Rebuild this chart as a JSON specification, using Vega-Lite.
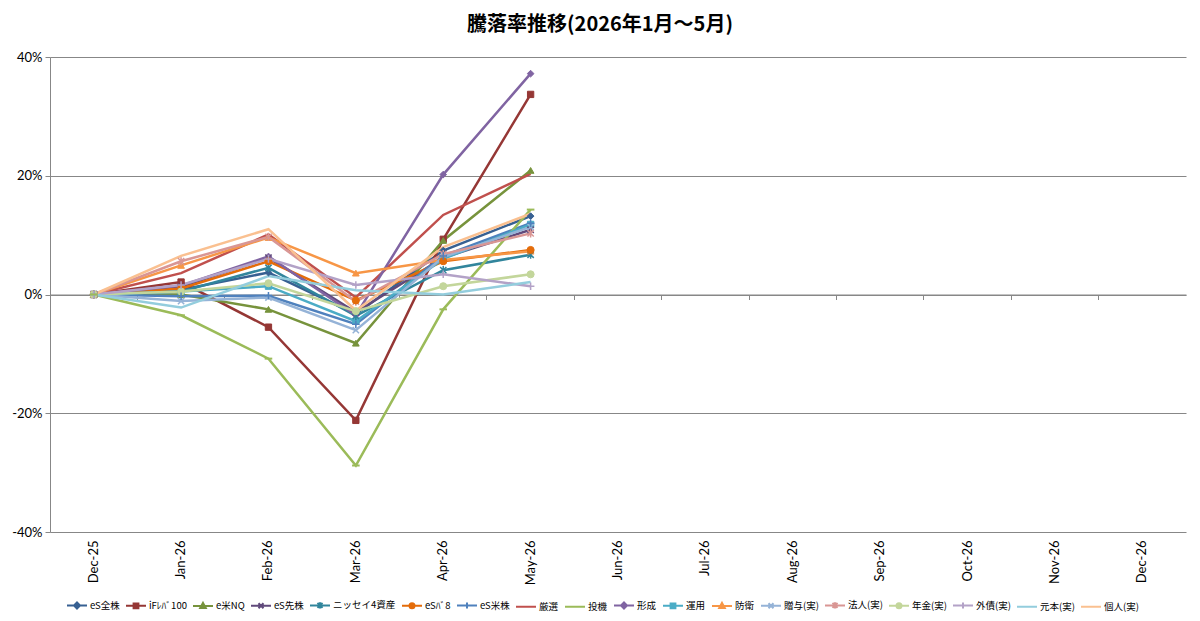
{
  "$schema": "https://vega.github.io/schema/vega-lite/v6.json",
  "description": "騰落率推移 line chart",
  "width": 1136, "height": 475,
  "autosize": {"type": "none"},
  "padding": {"left": 50, "top": 57, "right": 14, "bottom": 89},
  "background": "white",
  "config": {"view": {"stroke": null}},
  "title": {"text": "騰落率推移(2026年1月～5月)", "font": "Noto Sans CJK JP", "fontSize": 20, "fontWeight": "bold", "color": "#000", "anchor": "middle", "frame": "group", "dx": -18, "offset": 16},
  "data": {"values": [
    {"series": "eS全株", "month": "Dec-25", "value": 0}, {"series": "eS全株", "month": "Jan-26", "value": 0.8}, {"series": "eS全株", "month": "Feb-26", "value": 3.7}, {"series": "eS全株", "month": "Mar-26", "value": -3.3}, {"series": "eS全株", "month": "Apr-26", "value": 7.4}, {"series": "eS全株", "month": "May-26", "value": 13.2},
    {"series": "iFﾚﾊﾞ100", "month": "Dec-25", "value": 0}, {"series": "iFﾚﾊﾞ100", "month": "Jan-26", "value": 2.1}, {"series": "iFﾚﾊﾞ100", "month": "Feb-26", "value": -5.5}, {"series": "iFﾚﾊﾞ100", "month": "Mar-26", "value": -21.2}, {"series": "iFﾚﾊﾞ100", "month": "Apr-26", "value": 9.3}, {"series": "iFﾚﾊﾞ100", "month": "May-26", "value": 33.7},
    {"series": "e米NQ", "month": "Dec-25", "value": 0}, {"series": "e米NQ", "month": "Jan-26", "value": 0.0}, {"series": "e米NQ", "month": "Feb-26", "value": -2.5}, {"series": "e米NQ", "month": "Mar-26", "value": -8.2}, {"series": "e米NQ", "month": "Apr-26", "value": 9.1}, {"series": "e米NQ", "month": "May-26", "value": 20.9},
    {"series": "eS先株", "month": "Dec-25", "value": 0}, {"series": "eS先株", "month": "Jan-26", "value": 1.3}, {"series": "eS先株", "month": "Feb-26", "value": 6.2}, {"series": "eS先株", "month": "Mar-26", "value": -3.0}, {"series": "eS先株", "month": "Apr-26", "value": 6.2}, {"series": "eS先株", "month": "May-26", "value": 10.9},
    {"series": "ニッセイ4資産", "month": "Dec-25", "value": 0}, {"series": "ニッセイ4資産", "month": "Jan-26", "value": 0.5}, {"series": "ニッセイ4資産", "month": "Feb-26", "value": 4.5}, {"series": "ニッセイ4資産", "month": "Mar-26", "value": -3.6}, {"series": "ニッセイ4資産", "month": "Apr-26", "value": 4.1}, {"series": "ニッセイ4資産", "month": "May-26", "value": 6.7},
    {"series": "eSﾊﾞ8", "month": "Dec-25", "value": 0}, {"series": "eSﾊﾞ8", "month": "Jan-26", "value": 1.0}, {"series": "eSﾊﾞ8", "month": "Feb-26", "value": 5.6}, {"series": "eSﾊﾞ8", "month": "Mar-26", "value": -1.0}, {"series": "eSﾊﾞ8", "month": "Apr-26", "value": 5.6}, {"series": "eSﾊﾞ8", "month": "May-26", "value": 7.5},
    {"series": "eS米株", "month": "Dec-25", "value": 0}, {"series": "eS米株", "month": "Jan-26", "value": -0.3}, {"series": "eS米株", "month": "Feb-26", "value": -0.2}, {"series": "eS米株", "month": "Mar-26", "value": -5.0}, {"series": "eS米株", "month": "Apr-26", "value": 6.5}, {"series": "eS米株", "month": "May-26", "value": 12.0},
    {"series": "厳選", "month": "Dec-25", "value": 0}, {"series": "厳選", "month": "Jan-26", "value": 3.6}, {"series": "厳選", "month": "Feb-26", "value": 10.1}, {"series": "厳選", "month": "Mar-26", "value": -0.5}, {"series": "厳選", "month": "Apr-26", "value": 13.4}, {"series": "厳選", "month": "May-26", "value": 20.3},
    {"series": "投機", "month": "Dec-25", "value": 0}, {"series": "投機", "month": "Jan-26", "value": -3.5}, {"series": "投機", "month": "Feb-26", "value": -10.8}, {"series": "投機", "month": "Mar-26", "value": -28.8}, {"series": "投機", "month": "Apr-26", "value": -2.5}, {"series": "投機", "month": "May-26", "value": 14.3},
    {"series": "形成", "month": "Dec-25", "value": 0}, {"series": "形成", "month": "Jan-26", "value": 1.5}, {"series": "形成", "month": "Feb-26", "value": 6.4}, {"series": "形成", "month": "Mar-26", "value": -3.5}, {"series": "形成", "month": "Apr-26", "value": 20.2}, {"series": "形成", "month": "May-26", "value": 37.2},
    {"series": "運用", "month": "Dec-25", "value": 0}, {"series": "運用", "month": "Jan-26", "value": 0.5}, {"series": "運用", "month": "Feb-26", "value": 1.4}, {"series": "運用", "month": "Mar-26", "value": -4.5}, {"series": "運用", "month": "Apr-26", "value": 6.0}, {"series": "運用", "month": "May-26", "value": 11.8},
    {"series": "防衛", "month": "Dec-25", "value": 0}, {"series": "防衛", "month": "Jan-26", "value": 4.9}, {"series": "防衛", "month": "Feb-26", "value": 9.6}, {"series": "防衛", "month": "Mar-26", "value": 3.6}, {"series": "防衛", "month": "Apr-26", "value": 5.8}, {"series": "防衛", "month": "May-26", "value": 7.3},
    {"series": "贈与(実)", "month": "Dec-25", "value": 0}, {"series": "贈与(実)", "month": "Jan-26", "value": -1.1}, {"series": "贈与(実)", "month": "Feb-26", "value": -0.5}, {"series": "贈与(実)", "month": "Mar-26", "value": -6.0}, {"series": "贈与(実)", "month": "Apr-26", "value": 6.3}, {"series": "贈与(実)", "month": "May-26", "value": 11.4},
    {"series": "法人(実)", "month": "Dec-25", "value": 0}, {"series": "法人(実)", "month": "Jan-26", "value": 5.6}, {"series": "法人(実)", "month": "Feb-26", "value": 9.7}, {"series": "法人(実)", "month": "Mar-26", "value": -1.2}, {"series": "法人(実)", "month": "Apr-26", "value": 6.8}, {"series": "法人(実)", "month": "May-26", "value": 10.3},
    {"series": "年金(実)", "month": "Dec-25", "value": 0}, {"series": "年金(実)", "month": "Jan-26", "value": 0.5}, {"series": "年金(実)", "month": "Feb-26", "value": 1.9}, {"series": "年金(実)", "month": "Mar-26", "value": -2.8}, {"series": "年金(実)", "month": "Apr-26", "value": 1.4}, {"series": "年金(実)", "month": "May-26", "value": 3.4},
    {"series": "外債(実)", "month": "Dec-25", "value": 0}, {"series": "外債(実)", "month": "Jan-26", "value": 1.6}, {"series": "外債(実)", "month": "Feb-26", "value": 6.0}, {"series": "外債(実)", "month": "Mar-26", "value": 1.6}, {"series": "外債(実)", "month": "Apr-26", "value": 3.4}, {"series": "外債(実)", "month": "May-26", "value": 1.4},
    {"series": "元本(実)", "month": "Dec-25", "value": 0}, {"series": "元本(実)", "month": "Jan-26", "value": -2.2}, {"series": "元本(実)", "month": "Feb-26", "value": 3.1}, {"series": "元本(実)", "month": "Mar-26", "value": 0.7}, {"series": "元本(実)", "month": "Apr-26", "value": 0.0}, {"series": "元本(実)", "month": "May-26", "value": 2.1},
    {"series": "個人(実)", "month": "Dec-25", "value": 0}, {"series": "個人(実)", "month": "Jan-26", "value": 6.5}, {"series": "個人(実)", "month": "Feb-26", "value": 11.0}, {"series": "個人(実)", "month": "Mar-26", "value": -2.7}, {"series": "個人(実)", "month": "Apr-26", "value": 8.0}, {"series": "個人(実)", "month": "May-26", "value": 13.6}
  ]},
  "encoding": {
    "y": {"field": "value", "type": "quantitative",
      "scale": {"domain": [-40, 40], "nice": false, "zero": false},
      "axis": {"values": [-40, -20, 0, 20, 40], "labelExpr": "datum.value + '%'", "title": null, "grid": true, "gridColor": "#878787", "domainColor": "#878787", "tickColor": "#878787", "tickSize": 5, "labelFont": "Lato", "labelFontSize": 13, "labelColor": "#000", "labelPadding": 3}}
  },
  "resolve": {"axis": {"x": "independent"}},
  "layer": [
    {
      "mark": {"type": "line", "strokeWidth": 2.5},
      "encoding": {
        "x": {"field": "month", "type": "ordinal", "sort": null, "bandPosition": 0.5,
          "scale": {"type": "band", "paddingInner": 0, "paddingOuter": 0, "domain": ["Dec-25","Jan-26","Feb-26","Mar-26","Apr-26","May-26","Jun-26","Jul-26","Aug-26","Sep-26","Oct-26","Nov-26","Dec-26"]},
          "axis": {"orient": "bottom", "title": null, "ticks": false, "domain": false, "grid": false, "labelAngle": 270, "labelAlign": "right", "labelBaseline": "middle", "labelPadding": 8, "labelFont": "Lato", "labelFontSize": 13, "labelColor": "#000"}},
        "stroke": {"field": "series", "type": "nominal",
          "scale": {"domain": ["eS全株","iFﾚﾊﾞ100","e米NQ","eS先株","ニッセイ4資産","eSﾊﾞ8","eS米株","厳選","投機","形成","運用","防衛","贈与(実)","法人(実)","年金(実)","外債(実)","元本(実)","個人(実)"],
            "range": ["#376092","#953735","#77933C","#604A7B","#31859C","#E46C0A","#4F81BD","#C0504D","#9BBB59","#8064A2","#4BACC6","#F79646","#95B3D7","#D99694","#C3D69B","#B3A2C7","#93CDDD","#FAC090"]}}
      }
    },
    {
      "transform": [{"filter": {"field": "series", "oneOf": ["eS全株", "形成"]}}],
      "mark": {"type": "point", "shape": "diamond", "filled": true, "size": 45, "strokeWidth": 1, "opacity": 1},
      "encoding": {
        "x": {"field": "month", "type": "ordinal", "sort": null, "bandPosition": 0.5,
          "axis": {"orient": "bottom", "offset": -237.5, "title": null, "labels": false, "ticks": true, "tickSize": 5, "tickColor": "#878787", "domain": true, "domainColor": "#878787", "grid": false, "bandPosition": 0}},
        "fill": {"field": "series", "type": "nominal"},
        "stroke": {"field": "series", "type": "nominal"}
      }
    },
    {
      "transform": [{"filter": {"field": "series", "oneOf": ["iFﾚﾊﾞ100", "運用"]}}],
      "mark": {"type": "point", "shape": "square", "filled": true, "size": 40, "strokeWidth": 1, "opacity": 1},
      "encoding": {
        "x": {"field": "month", "type": "ordinal", "sort": null, "bandPosition": 0.5, "axis": null},
        "fill": {"field": "series", "type": "nominal"},
        "stroke": {"field": "series", "type": "nominal"}
      }
    },
    {
      "transform": [{"filter": {"field": "series", "oneOf": ["e米NQ", "防衛"]}}],
      "mark": {"type": "point", "shape": "triangle-up", "filled": true, "size": 45, "strokeWidth": 1, "opacity": 1},
      "encoding": {
        "x": {"field": "month", "type": "ordinal", "sort": null, "bandPosition": 0.5, "axis": null},
        "fill": {"field": "series", "type": "nominal"},
        "stroke": {"field": "series", "type": "nominal"}
      }
    },
    {
      "transform": [{"filter": {"field": "series", "oneOf": ["eS先株", "贈与(実)"]}}],
      "mark": {"type": "point", "shape": "M-1,-1L1,1M-1,1L1,-1", "filled": false, "size": 40, "strokeWidth": 1.5, "opacity": 1},
      "encoding": {
        "x": {"field": "month", "type": "ordinal", "sort": null, "bandPosition": 0.5, "axis": null},
        "stroke": {"field": "series", "type": "nominal"}
      }
    },
    {
      "transform": [{"filter": {"field": "series", "oneOf": ["ニッセイ4資産", "法人(実)"]}}],
      "mark": {"type": "point", "shape": "M-1,-1L1,1M-1,1L1,-1M0,-1.3V1.3", "filled": false, "size": 40, "strokeWidth": 1.5, "opacity": 1},
      "encoding": {
        "x": {"field": "month", "type": "ordinal", "sort": null, "bandPosition": 0.5, "axis": null},
        "stroke": {"field": "series", "type": "nominal"}
      }
    },
    {
      "transform": [{"filter": {"field": "series", "oneOf": ["eSﾊﾞ8", "年金(実)"]}}],
      "mark": {"type": "point", "shape": "circle", "filled": true, "size": 50, "strokeWidth": 1, "opacity": 1},
      "encoding": {
        "x": {"field": "month", "type": "ordinal", "sort": null, "bandPosition": 0.5, "axis": null},
        "fill": {"field": "series", "type": "nominal"},
        "stroke": {"field": "series", "type": "nominal"}
      }
    },
    {
      "transform": [{"filter": {"field": "series", "oneOf": ["eS米株", "外債(実)"]}}],
      "mark": {"type": "point", "shape": "M-1.2,0H1.2M0,-1.2V1.2", "filled": false, "size": 40, "strokeWidth": 1.5, "opacity": 1},
      "encoding": {
        "x": {"field": "month", "type": "ordinal", "sort": null, "bandPosition": 0.5, "axis": null},
        "stroke": {"field": "series", "type": "nominal"}
      }
    },
    {
      "transform": [{"filter": {"field": "series", "oneOf": ["投機"]}}],
      "mark": {"type": "point", "shape": "M-1.2,0H1.2", "filled": false, "size": 40, "strokeWidth": 2, "opacity": 1},
      "encoding": {
        "x": {"field": "month", "type": "ordinal", "sort": null, "bandPosition": 0.5, "axis": null},
        "stroke": {"field": "series", "type": "nominal"}
      }
    },
    {
      "transform": [{"filter": "false"}],
      "mark": {"type": "point", "filled": true, "size": 400, "strokeWidth": 2, "opacity": 1},
      "encoding": {
        "x": {"field": "month", "type": "ordinal", "sort": null, "bandPosition": 0.5, "axis": null},
        "fill": {"field": "series", "type": "nominal",
          "scale": {"domain": ["eS全株","iFﾚﾊﾞ100","e米NQ","eS先株","ニッセイ4資産","eSﾊﾞ8","eS米株","厳選","投機","形成","運用","防衛","贈与(実)","法人(実)","年金(実)","外債(実)","元本(実)","個人(実)"],
            "range": ["#376092","#953735","#77933C","#604A7B","#31859C","#E46C0A","#4F81BD","#C0504D","#9BBB59","#8064A2","#4BACC6","#F79646","#95B3D7","#D99694","#C3D69B","#B3A2C7","#93CDDD","#FAC090"]},
          "legend": {"title": null, "orient": "none", "legendX": 16, "legendY": 537, "direction": "horizontal", "columns": 18, "symbolSize": 400, "symbolStrokeWidth": 2, "labelFont": "Noto Sans CJK JP", "labelFontSize": 9.5, "labelColor": "#000", "labelOffset": 2, "columnPadding": 2, "labelLimit": 150}},
        "stroke": {"field": "series", "type": "nominal",
          "legend": {"title": null, "orient": "none", "legendX": 16, "legendY": 537, "direction": "horizontal", "columns": 18, "symbolSize": 400, "symbolStrokeWidth": 2, "labelFont": "Noto Sans CJK JP", "labelFontSize": 9.5, "labelColor": "#000", "labelOffset": 2, "columnPadding": 2, "labelLimit": 150}},
        "shape": {"field": "series", "type": "nominal",
          "scale": {"domain": ["eS全株","iFﾚﾊﾞ100","e米NQ","eS先株","ニッセイ4資産","eSﾊﾞ8","eS米株","厳選","投機","形成","運用","防衛","贈与(実)","法人(実)","年金(実)","外債(実)","元本(実)","個人(実)"],
            "range": [
              "M-1,0H1M0,-0.3L0.3,0L0,0.3L-0.3,0Z",
              "M-1,0H1M-0.24,-0.24H0.24V0.24H-0.24Z",
              "M-1,0H1M0,-0.3L0.28,0.22H-0.28Z",
              "M-1,0H1M-0.25,-0.25L0.25,0.25M-0.25,0.25L0.25,-0.25",
              "M-1,0H1M-0.25,-0.25L0.25,0.25M-0.25,0.25L0.25,-0.25M0,-0.32V0.32",
              "M-1,0H1M0.25,0A0.25,0.25,0,1,1,-0.25,0A0.25,0.25,0,1,1,0.25,0Z",
              "M-1,0H1M0,-0.3V0.3",
              "M-1,0H1",
              "M-1,0H1",
              "M-1,0H1M0,-0.3L0.3,0L0,0.3L-0.3,0Z",
              "M-1,0H1M-0.24,-0.24H0.24V0.24H-0.24Z",
              "M-1,0H1M0,-0.3L0.28,0.22H-0.28Z",
              "M-1,0H1M-0.25,-0.25L0.25,0.25M-0.25,0.25L0.25,-0.25",
              "M-1,0H1M-0.25,-0.25L0.25,0.25M-0.25,0.25L0.25,-0.25M0,-0.32V0.32",
              "M-1,0H1M0.25,0A0.25,0.25,0,1,1,-0.25,0A0.25,0.25,0,1,1,0.25,0Z",
              "M-1,0H1M0,-0.3V0.3",
              "M-1,0H1",
              "M-1,0H1"]},
          "legend": {"title": null, "orient": "none", "legendX": 16, "legendY": 537, "direction": "horizontal", "columns": 18, "symbolSize": 400, "symbolStrokeWidth": 2, "labelFont": "Noto Sans CJK JP", "labelFontSize": 9.5, "labelColor": "#000", "labelOffset": 2, "columnPadding": 2, "labelLimit": 150}}
      }
    }
  ]
}
